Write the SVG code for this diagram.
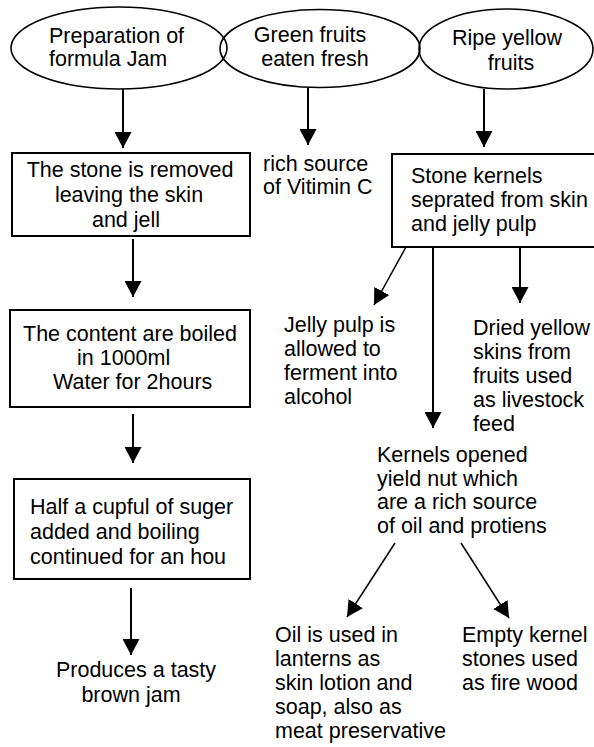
<svg xmlns="http://www.w3.org/2000/svg" width="594" height="747" viewBox="0 0 594 747">
<style>
text{font-family:"Liberation Sans",Arial,sans-serif;font-size:21.5px;fill:#000}
.shape{fill:#fff;stroke:#000;stroke-width:2}
.ell{fill:none;stroke:#000;stroke-width:1.6}
.c{stroke:#000;stroke-width:2;fill:none}
.d{stroke:#000;stroke-width:1.5;fill:none}
.m{text-anchor:middle}
</style>
<defs>
<marker id="ah" viewBox="0 0 16 17" refX="16" refY="8.5" markerWidth="16" markerHeight="17" markerUnits="userSpaceOnUse" orient="auto">
<path d="M0,0 L16,8.5 L0,17 Z" fill="#000"/>
</marker>
</defs>
<rect width="594" height="747" fill="#fff"/>
<g id="n-prep">
<ellipse class="ell" cx="119" cy="48" rx="108" ry="41"/>
<text x="49" y="43">Preparation of</text>
<text x="49" y="66">formula Jam</text>
</g>
<g id="n-green">
<ellipse class="ell" cx="320" cy="48.5" rx="100" ry="39"/>
<text class="m" x="310" y="42">Green fruits</text>
<text class="m" x="315" y="66">eaten fresh</text>
</g>
<g id="n-ripe">
<ellipse class="ell" cx="506" cy="49" rx="87" ry="40"/>
<text class="m" x="507" y="45">Ripe yellow</text>
<text class="m" x="511" y="70">fruits</text>
</g>
<g id="n-stone">
<rect class="shape" x="12" y="153" width="238" height="83"/>
<text class="m" x="130" y="177">The stone is removed</text>
<text class="m" x="129" y="202">leaving the skin</text>
<text class="m" x="126" y="227">and jell</text>
</g>
<g id="n-boil">
<rect class="shape" x="10" y="310" width="240" height="97"/>
<text x="23" y="341">The content are boiled</text>
<text x="77" y="365">in 1000ml</text>
<text x="53" y="389">Water for 2hours</text>
</g>
<g id="n-sugar">
<rect class="shape" x="14" y="479" width="236" height="100"/>
<text x="30" y="514">Half a cupful of suger</text>
<text x="30" y="539">added and boiling</text>
<text x="30" y="564">continued for an hou</text>
</g>
<g id="n-jam">
<text class="m" x="136" y="677">Produces a tasty</text>
<text class="m" x="131" y="702">brown jam</text>
</g>
<g id="n-vitc">
<text x="263" y="171">rich source</text>
<text x="263" y="194">of Vitimin C</text>
</g>
<g id="n-kernels">
<rect class="shape" x="392" y="154" width="206" height="93"/>
<text x="411" y="183">Stone kernels</text>
<text x="411" y="207">seprated from skin</text>
<text x="411" y="231">and jelly pulp</text>
</g>
<g id="n-jelly">
<text x="284" y="332">Jelly pulp is</text>
<text x="284" y="356">allowed to</text>
<text x="284" y="380">ferment into</text>
<text x="284" y="404">alcohol</text>
</g>
<g id="n-dried">
<text x="473" y="335">Dried yellow</text>
<text x="473" y="359">skins from</text>
<text x="473" y="383">fruits used</text>
<text x="473" y="407">as livestock</text>
<text x="473" y="431">feed</text>
</g>
<g id="n-nut">
<text x="377" y="462">Kernels opened</text>
<text x="377" y="486">yield nut which</text>
<text x="377" y="509">are a rich source</text>
<text x="377" y="533">of oil and protiens</text>
</g>
<g id="n-oil">
<text x="275" y="642">Oil is used in</text>
<text x="275" y="666">lanterns as</text>
<text x="275" y="690">skin lotion and</text>
<text x="275" y="714">soap, also as</text>
<text x="275" y="738">meat preservative</text>
</g>
<g id="n-empty">
<text x="462" y="642">Empty kernel</text>
<text x="462" y="666">stones used</text>
<text x="462" y="690">as fire wood</text>
</g>
<g id="connectors">
<line class="c" x1="123" y1="89" x2="123" y2="148" marker-end="url(#ah)"/>
<line class="c" x1="308" y1="88" x2="308" y2="145" marker-end="url(#ah)"/>
<line class="c" x1="484" y1="89" x2="484" y2="147" marker-end="url(#ah)"/>
<line class="c" x1="133" y1="239" x2="133" y2="297" marker-end="url(#ah)"/>
<line class="c" x1="133" y1="414" x2="133" y2="463" marker-end="url(#ah)"/>
<line class="c" x1="131" y1="588" x2="131" y2="655" marker-end="url(#ah)"/>
<line class="d" x1="406" y1="247" x2="374" y2="305" marker-end="url(#ah)"/>
<line class="c" x1="433" y1="247" x2="433" y2="428" marker-end="url(#ah)"/>
<line class="c" x1="520" y1="247" x2="520" y2="303" marker-end="url(#ah)"/>
<line class="d" x1="395" y1="543" x2="347" y2="617" marker-end="url(#ah)"/>
<line class="d" x1="461" y1="543" x2="509" y2="618" marker-end="url(#ah)"/>
</g>
</svg>
